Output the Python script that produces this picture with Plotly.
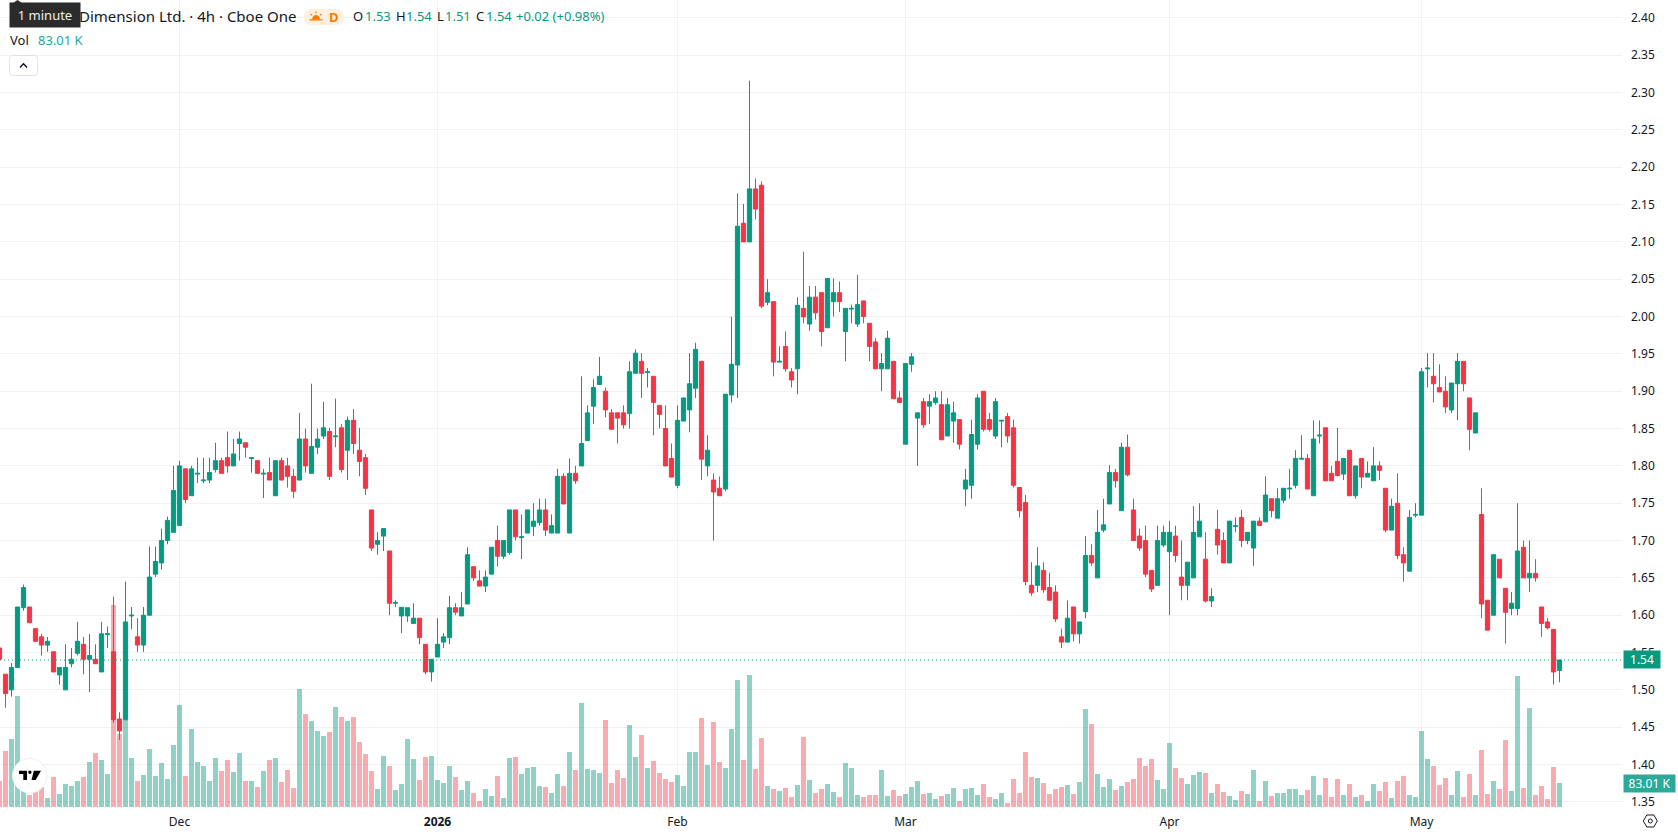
import plotly.graph_objects as go

# 4h candles, oldest first
opens = [
 1.556,1.521,1.50,1.53,1.61,1.611,1.582,1.571,1.56,1.551,1.52,1.50,1.535,1.549,1.561,1.541,1.541,1.524,1.574,1.551,
 1.461,1.46,1.599,1.571,1.56,1.60,1.655,1.67,1.70,1.711,1.72,1.796,1.76,1.789,1.78,1.781,1.795,1.807,1.811,1.80,
 1.83,1.831,1.81,1.807,1.789,1.791,1.76,1.807,1.80,1.786,1.781,1.836,1.79,1.825,1.84,1.846,1.839,1.851,1.821,1.861,
 1.821,1.811,1.741,1.695,1.706,1.686,1.616,
 1.599,1.599,1.589,1.596,1.561,1.524,1.544,1.564,1.57,1.61,1.599,1.615,1.665,1.646,1.639,1.655,1.70,1.679,1.684,
 1.741,1.704,1.71,1.719,1.724,1.741,1.71,1.71,1.786,1.71,1.79,1.80,1.834,1.88,1.909,1.90,1.871,1.871,1.871,1.87,
 1.924,1.94,1.925,1.92,1.881,1.85,1.81,1.774,1.86,1.875,1.904,1.94,1.80,1.781,1.77,1.769,1.895,1.935,2.125,2.10,
 2.171,2.176,2.019,2.02,1.939,1.96,1.926,1.93,
 2.011,1.99,2.026,2.032,1.985,2.02,2.032,1.98,2.01,1.99,2.021,1.991,1.966,1.93,1.93,1.94,1.891,1.829,1.936,1.864,
 1.886,1.88,1.885,1.882,1.84,1.86,1.862,1.769,1.774,1.829,1.90,1.862,1.84,1.86,1.866,1.851,1.771,1.751,1.64,1.64,
 1.66,1.637,1.631,1.571,1.564,1.611,1.575,1.605,1.68,1.65,1.714,1.749,1.791,1.74,1.825,1.741,1.706,1.70,1.66,1.64,
 1.694,1.685,1.706,1.651,1.64,1.65,1.705,
 1.675,1.619,1.715,1.70,1.67,1.719,1.731,1.70,1.69,1.726,1.725,1.756,1.73,1.754,1.769,1.774,1.809,1.81,1.76,1.84,
 1.851,1.79,1.806,1.789,1.821,1.76,1.81,1.785,1.78,1.80,1.77,1.714,1.75,1.681,1.659,1.734,1.734,1.93,1.92,1.905,
 1.90,1.875,1.91,1.94,1.891,1.844,1.735,1.62,1.60,1.675,1.636,1.609,1.609,1.691,1.65,1.656,1.611,1.591,1.581,1.526,
]
highs = [
 1.556,1.521,1.536,1.611,1.641,1.611,1.582,1.575,1.571,1.551,1.53,1.561,1.556,1.591,1.571,1.575,1.561,1.591,1.585,1.625,
 1.47,1.645,1.611,1.596,1.611,1.692,1.692,1.716,1.732,1.80,1.807,1.796,1.80,1.811,1.811,1.811,1.831,1.811,1.846,1.836,
 1.846,1.831,1.811,1.807,1.796,1.811,1.807,1.811,1.811,1.796,1.871,1.85,1.91,1.85,1.886,1.851,1.89,1.856,1.866,1.876,
 1.851,1.816,1.741,1.711,1.716,1.686,1.62,
 1.61,1.61,1.616,1.596,1.561,1.541,1.596,1.576,1.626,1.616,1.631,1.691,1.665,1.66,1.66,1.691,1.72,1.70,1.741,
 1.741,1.735,1.741,1.75,1.756,1.756,1.735,1.796,1.79,1.81,1.80,1.92,1.881,1.916,1.946,1.905,1.876,1.871,1.881,1.94,
 1.956,1.951,1.931,1.92,1.881,1.881,1.83,1.881,1.891,1.951,1.965,1.94,1.841,1.79,1.786,1.896,2.00,2.165,2.151,2.316,
 2.185,2.181,2.05,2.02,1.96,1.98,1.931,2.026,
 2.087,2.041,2.041,2.032,2.051,2.051,2.047,2.011,2.016,2.056,2.021,1.991,1.971,1.951,1.981,1.94,1.90,1.937,1.951,1.871,
 1.891,1.896,1.90,1.90,1.891,1.886,1.862,1.796,1.862,1.896,1.90,1.871,1.891,1.861,1.871,1.862,1.771,1.761,1.671,1.691,
 1.671,1.657,1.64,1.582,1.62,1.611,1.591,1.706,1.695,1.741,1.756,1.801,1.796,1.831,1.842,1.756,1.716,1.72,1.66,1.72,
 1.72,1.726,1.72,1.70,1.671,1.746,1.75,
 1.711,1.636,1.741,1.711,1.726,1.731,1.741,1.711,1.726,1.731,1.786,1.756,1.77,1.77,1.796,1.821,1.841,1.816,1.861,1.861,
 1.851,1.80,1.851,1.81,1.821,1.80,1.81,1.806,1.825,1.806,1.77,1.756,1.79,1.691,1.741,1.75,1.931,1.951,1.951,1.936,
 1.92,1.911,1.951,1.94,1.891,1.871,1.77,1.62,1.681,1.675,1.636,1.631,1.75,1.70,1.70,1.675,1.611,1.596,1.581,1.54,
]
lows = [
 1.541,1.476,1.491,1.53,1.606,1.59,1.565,1.546,1.551,1.524,1.507,1.50,1.53,1.546,1.521,1.497,1.535,1.524,1.556,1.456,
 1.433,1.46,1.581,1.551,1.551,1.60,1.651,1.661,1.695,1.711,1.72,1.75,1.76,1.777,1.777,1.777,1.791,1.79,1.791,1.80,
 1.807,1.811,1.791,1.79,1.757,1.781,1.76,1.781,1.771,1.757,1.781,1.791,1.79,1.816,1.836,1.781,1.825,1.791,1.781,1.816,
 1.786,1.761,1.686,1.681,1.686,1.60,1.611,
 1.576,1.591,1.589,1.561,1.521,1.511,1.544,1.556,1.561,1.60,1.599,1.615,1.646,1.639,1.631,1.655,1.665,1.675,1.681,
 1.70,1.675,1.71,1.706,1.72,1.706,1.71,1.71,1.749,1.71,1.776,1.80,1.834,1.856,1.909,1.865,1.849,1.83,1.85,1.85,
 1.924,1.891,1.905,1.841,1.85,1.80,1.785,1.77,1.86,1.845,1.891,1.781,1.786,1.70,1.76,1.766,1.885,1.891,2.10,2.10,
 2.13,2.011,2.015,1.92,1.939,1.926,1.905,1.896,
 1.991,1.981,1.996,1.96,1.985,2.00,2.006,1.94,1.991,1.986,1.991,1.94,1.93,1.90,1.93,1.89,1.885,1.829,1.926,1.80,
 1.851,1.856,1.882,1.835,1.84,1.831,1.822,1.746,1.756,1.822,1.846,1.846,1.836,1.825,1.831,1.771,1.731,1.64,1.626,1.631,
 1.63,1.62,1.591,1.556,1.564,1.565,1.562,1.596,1.666,1.65,1.711,1.749,1.771,1.74,1.786,1.70,1.686,1.651,1.631,1.64,
 1.691,1.60,1.671,1.62,1.62,1.65,1.705,
 1.617,1.611,1.681,1.67,1.67,1.711,1.691,1.695,1.666,1.72,1.725,1.731,1.73,1.75,1.756,1.77,1.809,1.769,1.76,1.83,
 1.78,1.78,1.786,1.781,1.76,1.756,1.77,1.785,1.78,1.781,1.711,1.714,1.675,1.645,1.659,1.731,1.734,1.905,1.885,1.899,
 1.871,1.871,1.861,1.90,1.821,1.844,1.596,1.58,1.60,1.65,1.562,1.60,1.60,1.65,1.631,1.645,1.571,1.581,1.507,1.51,
]
closes = [
 1.541,1.495,1.53,1.611,1.637,1.59,1.565,1.56,1.565,1.524,1.53,1.53,1.541,1.565,1.541,1.546,1.535,1.575,1.575,1.46,
 1.445,1.591,1.60,1.56,1.60,1.651,1.672,1.70,1.727,1.767,1.80,1.755,1.796,1.79,1.781,1.791,1.807,1.79,1.80,1.816,
 1.836,1.825,1.811,1.79,1.79,1.781,1.807,1.781,1.786,1.766,1.836,1.80,1.826,1.836,1.851,1.786,1.84,1.795,1.861,1.83,
 1.806,1.77,1.69,1.70,1.716,1.616,1.617,
 1.6105,1.61,1.596,1.57,1.524,1.541,1.561,1.571,1.61,1.604,1.61,1.681,1.65,1.639,1.651,1.691,1.679,1.70,1.741,
 1.705,1.705,1.741,1.726,1.741,1.714,1.72,1.786,1.749,1.79,1.78,1.83,1.871,1.905,1.92,1.875,1.849,1.864,1.855,1.926,
 1.951,1.924,1.926,1.885,1.869,1.80,1.785,1.861,1.891,1.91,1.956,1.809,1.821,1.765,1.76,1.896,1.936,2.121,2.10,2.171,
 2.144,2.014,2.032,1.939,1.94,1.93,1.915,2.015,
 1.9995,2.026,2.005,1.98,2.051,2.032,2.02,2.011,2.011,2.016,2.00,1.96,1.93,1.937,1.971,1.89,1.885,1.937,1.946,1.871,
 1.855,1.886,1.891,1.835,1.882,1.871,1.829,1.781,1.842,1.891,1.849,1.849,1.886,1.861,1.84,1.774,1.74,1.645,1.63,1.666,
 1.634,1.62,1.595,1.564,1.596,1.575,1.591,1.68,1.67,1.711,1.721,1.791,1.78,1.825,1.788,1.70,1.69,1.655,1.635,1.70,
 1.711,1.711,1.68,1.64,1.671,1.711,1.726,
 1.619,1.625,1.694,1.67,1.726,1.72,1.70,1.711,1.726,1.72,1.761,1.74,1.756,1.77,1.77,1.81,1.81,1.769,1.836,1.841,
 1.78,1.78,1.787,1.81,1.76,1.80,1.785,1.79,1.80,1.794,1.714,1.746,1.68,1.67,1.731,1.735,1.926,1.931,1.91,1.899,
 1.879,1.911,1.94,1.91,1.849,1.871,1.615,1.58,1.681,1.65,1.604,1.616,1.686,1.65,1.656,1.65,1.589,1.583,1.524,1.54,
]
# volume per candle, thousands of shares
volumes = [
 92,194,235,385,55,41,55,70,30,104,44,80,72,89,104,155,187,163,115,701,253,301,170,92,111,203,107,152,96,214,
 353,107,270,155,144,92,170,124,163,120,187,92,92,68,124,163,170,87,128,65,409,322,298,263,246,259,346,312,298,312,
 226,183,124,61,176,144,59,
 79,235,167,93,173,177,93,82,143,103,58,89,48,21,62,38,106,31,170,173,113,136,139,72,69,48,113,72,191,129,
 361,132,129,117,302,82,129,100,285,173,249,136,160,117,96,86,110,72,191,191,309,146,295,156,136,270,441,163,458,132,
 239,72,62,55,65,34,76,
 243,94,49,63,80,52,35,153,135,42,35,42,42,129,38,59,38,45,70,90,45,49,28,38,45,66,21,63,66,42,
 80,35,28,49,14,97,49,191,104,101,83,45,63,70,76,45,87,340,288,115,70,97,59,73,87,97,170,142,167,94,
 63,222,135,101,80,111,122,
 118,49,79,52,38,25,56,45,129,21,90,38,49,49,63,63,41,59,108,41,101,34,97,41,79,34,41,21,79,56,
 87,31,90,108,41,34,264,167,142,77,101,41,126,34,115,41,198,45,90,63,232,56,455,66,344,41,73,28,139,83.01,
]
assert len(opens) == len(highs) == len(lows) == len(closes) == len(volumes) == 261

# price scale and time scale
price_ticks = [1.35, 1.40, 1.45, 1.50, 1.55, 1.60, 1.65, 1.70, 1.75, 1.80, 1.85, 1.90, 1.95,
               2.00, 2.05, 2.10, 2.15, 2.20, 2.25, 2.30, 2.35, 2.40]
time_ticks = [30, 73, 113, 151, 195, 237]
time_labels = ["Dec", "<b>2026</b>", "Feb", "Mar", "Apr", "May"]

title_text = "Dimension Ltd. · 4h · Cboe One"
tooltip_text = "1 minute"
change_text = "+0.02 (+0.98%)"

FONT = "Noto Sans"
INK = "#131722"
UP = "#089981"
DOWN = "#F23645"
GRID = "#F0F1F3"
WIDTH, HEIGHT = 1678, 835
PANE_W, PANE_H = 1622, 807


def px(x):
    return x / PANE_W


def py(y):
    return 1 - y / PANE_H


def path(points, close=True):
    head = "M" + " L".join(f"{px(x):.5f},{py(y):.5f}" for x, y in points)
    return head + (" Z" if close else "")


def rounded(x0, y0, x1, y1, r):
    p = lambda x, y: f"{px(x):.5f},{py(y):.5f}"
    return (f"M{p(x0 + r, y0)} L{p(x1 - r, y0)} Q{p(x1, y0)} {p(x1, y0 + r)} "
            f"L{p(x1, y1 - r)} Q{p(x1, y1)} {p(x1 - r, y1)} L{p(x0 + r, y1)} "
            f"Q{p(x0, y1)} {p(x0, y1 - r)} L{p(x0, y0 + r)} Q{p(x0, y0)} {p(x0 + r, y0)} Z")


def label(x, y, text, color=INK, size=13, anchor="left", **kw):
    return dict(xref="paper", yref="paper", x=px(x), y=py(y), text=text, showarrow=False,
                xanchor=anchor, yanchor="middle", borderpad=0,
                font=dict(family=FONT, size=size, color=color), **kw)


idx = list(range(len(closes)))
vol_colors = ["rgba(8,153,129,0.45)" if c >= o else "rgba(242,54,69,0.42)"
              for o, c in zip(opens, closes)]

fig = go.Figure()
fig.add_trace(go.Bar(x=idx, y=volumes, marker=dict(color=vol_colors, line_width=0),
                     width=5 / 6, yaxis="y", hoverinfo="skip", showlegend=False))
fig.add_trace(go.Candlestick(
    x=idx, open=opens, high=highs, low=lows, close=closes, yaxis="y2", showlegend=False,
    whiskerwidth=0,
    increasing=dict(line=dict(color=UP, width=1), fillcolor=UP),
    decreasing=dict(line=dict(color=DOWN, width=1), fillcolor=DOWN),
))

shapes = [
    # last price line
    dict(type="line", xref="paper", yref="y2", x0=0, x1=1, y0=closes[-1], y1=closes[-1],
         line=dict(color=UP, width=1, dash="1px,3px"), layer="above"),
    # collapse button
    dict(type="path", path=rounded(9.5, 55.5, 37.5, 75.5, 3), xref="paper", yref="paper",
         fillcolor="white", line=dict(color="#E0E3EB", width=1), layer="above"),
    dict(type="path", path=path([(20, 67.5), (23.5, 63.7), (27, 67.5)], close=False),
         xref="paper", yref="paper", line=dict(color=INK, width=1.4), layer="above"),
    # session pill and sun
    dict(type="path", path=rounded(304, 9, 343.5, 25, 8), xref="paper", yref="paper",
         fillcolor="#FEF0E0", line_width=0, layer="above"),
    dict(type="path", path=path([(312, 19.5), (312.6, 17), (314, 15.5), (316, 15), (318, 15.5),
                                 (319.4, 17), (320, 19.5)]),
         xref="paper", yref="paper", fillcolor="#F57C00", line_width=0, layer="above"),
    dict(type="path",
         path=path([(309.5, 19.8), (322.5, 19.8)], close=False)
              + " " + path([(316, 11.5), (316, 13.5)], close=False)
              + " " + path([(310.5, 14), (312, 15.3)], close=False)
              + " " + path([(321.5, 14), (320, 15.3)], close=False),
         xref="paper", yref="paper", line=dict(color="#F57C00", width=1.2), layer="above"),
    # tooltip pointer
    dict(type="path", path=path([(13, 3), (17.5, 0), (22, 3)]), xref="paper", yref="paper",
         fillcolor="#2B2B2B", line_width=0, layer="above"),
    # chart badge
    dict(type="circle", xref="paper", yref="paper", x0=px(12.5), x1=px(47), y0=py(793), y1=py(758.5),
         fillcolor="white", line=dict(color="#EDEDED", width=1), layer="above"),
    dict(type="path", path=path([(19, 770.7), (27, 770.7), (27, 780), (23.3, 780), (23.3, 774), (19, 774)]),
         xref="paper", yref="paper", fillcolor="#000000", line_width=0, layer="above"),
    dict(type="circle", xref="paper", yref="paper", x0=px(28.2), x1=px(31.6), y0=py(773.9), y1=py(770.5),
         fillcolor="#000000", line_width=0, layer="above"),
    dict(type="path", path=path([(33.8, 770.7), (41, 770.7), (35.6, 780), (31.5, 780)]),
         xref="paper", yref="paper", fillcolor="#000000", line_width=0, layer="above"),
    # scale settings icon
    dict(type="path", path=path([(1643.3, 821), (1646.8, 815), (1653.8, 815), (1657.3, 821),
                                 (1653.8, 827), (1646.8, 827)]),
         xref="paper", yref="paper", line=dict(color=INK, width=1), layer="above"),
    dict(type="circle", xref="paper", yref="paper", x0=px(1648.3), x1=px(1652.3), y0=py(823), y1=py(819),
         line=dict(color=INK, width=1), layer="above"),
]

o_txt, h_txt, l_txt, c_txt = (f"{v:.2f}" for v in (opens[-1], highs[-1], lows[-1], closes[-1]))
annotations = [
    label(297, 16, title_text, size=15, anchor="right"),
    label(9, 3 + 12, tooltip_text, color="#F0F0F0", size=13, width=70, height=24,
          bgcolor="#2B2B2B", align="center"),
    label(9, 40.5, "Vol", size=13),
    label(37, 40.5, f"{volumes[-1]:.2f} K", color="#26A69A", size=13),
    label(327.5, 16.5, "<b>D</b>", color="#F57C00", size=13),
    label(352, 16, "O", size=13), label(364, 16, o_txt, color=UP, size=13),
    label(395, 16, "H", size=13), label(405, 16, h_txt, color=UP, size=13),
    label(436, 16, "L", size=13), label(444, 16, l_txt, color=UP, size=13),
    label(475, 16, "C", size=13), label(485, 16, c_txt, color=UP, size=13),
    label(515, 16, change_text, color=UP, size=13),
    dict(xref="paper", yref="y2", x=px(1623), y=closes[-1], text=c_txt, showarrow=False,
         xanchor="left", yanchor="middle", width=36, height=17, align="center", borderpad=0,
         bgcolor=UP, font=dict(family=FONT, size=12, color="white")),
    dict(xref="paper", yref="y", x=px(1623), y=volumes[-1], text=f"{volumes[-1]:.2f} K", showarrow=False,
         xanchor="left", yanchor="middle", width=51, height=17, align="center", borderpad=0,
         bgcolor="#2BA99A", font=dict(family=FONT, size=12, color="white")),
]

fig.update_layout(
    width=WIDTH, height=HEIGHT, margin=dict(l=0, r=WIDTH - PANE_W, t=0, b=HEIGHT - PANE_H),
    paper_bgcolor="white", plot_bgcolor="white", showlegend=False, bargap=0,
    boxgap=0.3, boxgroupgap=0.0, dragmode=False,
    xaxis=dict(range=[0.0833, 270.4167], tickmode="array", tickvals=time_ticks, ticktext=time_labels,
               showgrid=True, gridcolor=GRID, gridwidth=1, zeroline=False, showline=False,
               ticks="", ticklabelstandoff=6, rangeslider=dict(visible=False),
               tickfont=dict(family=FONT, size=12, color=INK)),
    yaxis=dict(range=[0, 2803], visible=False, fixedrange=True),
    yaxis2=dict(range=[1.3431, 2.4240], overlaying="y", side="right", tickmode="array",
                tickvals=price_ticks, ticktext=[f"{t:.2f}" for t in price_ticks],
                showgrid=True, gridcolor=GRID, gridwidth=1, zeroline=False, showline=False,
                ticks="", ticklabelstandoff=8, tickfont=dict(family=FONT, size=12, color=INK)),
    shapes=shapes, annotations=annotations,
)

fig.write_html("out.html", config=dict(displayModeBar=False))
